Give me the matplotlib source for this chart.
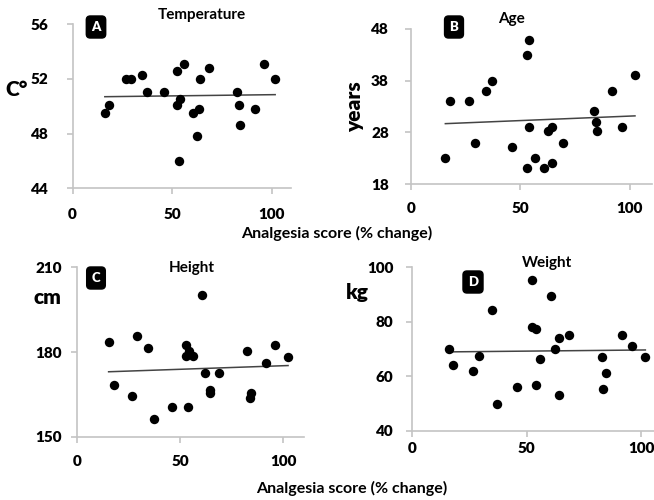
import numpy as np
import matplotlib.pyplot as plt

plt.rcParams['font.family'] = ['Lato', 'DejaVu Sans']
plt.rcParams['font.weight'] = 'bold'

# ---- data ----
temp_x = [16.2, 18.3, 26.6, 29.6, 34.7, 37.4, 45.9, 52.3, 52.3, 54.1, 53.4, 55.8,
          60.6, 63.7, 62.3, 64.2, 68.7, 82.7, 83.8, 84.1, 91.8, 96.0, 101.8]
temp_y = [49.5, 50.1, 52.0, 52.0, 52.3, 51.0, 51.0, 52.6, 50.1, 50.5, 46.0, 53.1,
          49.5, 49.8, 47.8, 52.0, 52.8, 51.0, 50.1, 48.6, 49.8, 53.1, 52.0]
temp_trend = [50.69, 50.84]

age_x = [15.7, 17.8, 26.6, 29.1, 34.4, 37.1, 46.0, 52.8, 54.0, 53.7, 52.8, 56.5,
         60.6, 62.7, 64.2, 64.4, 69.3, 83.6, 84.3, 84.8, 91.8, 96.3, 102.3]
age_y = [23.1, 34.1, 34.1, 26.0, 36.0, 38.0, 25.1, 42.9, 45.8, 29.0, 21.2, 23.1,
         21.2, 28.2, 29.0, 22.2, 26.0, 32.1, 30.0, 28.2, 36.0, 29.0, 39.0]
age_trend = [29.7, 31.2]

height_x = [15.2, 17.8, 26.4, 28.8, 34.3, 37.1, 46.0, 52.6, 52.6, 54.4, 53.6, 56.0,
            60.7, 62.1, 64.2, 64.6, 68.6, 82.5, 84.3, 83.8, 91.7, 96.0, 102.3]
height_y = [183.6, 168.4, 164.5, 185.6, 181.4, 156.3, 160.5, 182.5, 178.5, 180.4, 160.5, 178.5,
            200.3, 172.5, 165.6, 166.4, 172.5, 180.4, 165.6, 163.7, 176.2, 182.4, 178.4]
height_trend = [173.0, 175.2]

weight_x = [16.0, 17.9, 26.7, 29.3, 34.7, 37.2, 45.9, 52.3, 52.3, 53.9, 53.9, 55.8,
            60.5, 62.4, 64.3, 64.0, 68.7, 82.8, 84.5, 83.5, 91.8, 96.1, 101.9]
weight_y = [70.2, 64.1, 62.1, 67.4, 84.3, 49.9, 56.0, 95.4, 78.2, 77.3, 57.0, 66.3,
            89.5, 70.0, 74.1, 53.1, 75.1, 67.2, 61.1, 55.3, 75.1, 71.1, 67.2]
weight_trend = [69.0, 69.7]

titles = ["Temperature", "Age", "Height", "Weight"]
letters = ["A", "B", "C", "D"]
units = ["C\u00b0", "years", "cm", "kg"]
y_ticks = [[44, 48, 52, 56], [18, 28, 38, 48], [150, 180, 210], [40, 60, 80, 100]]
x_ticks = [0, 50, 100]
xlabel = "Analgesia score (% change)"

W, H = 654, 500
fig = plt.figure(figsize=(W / 100, H / 100), dpi=100)


def px(x, y):
    return x / W, 1 - y / H


# axes rectangles in figure fractions (layout)
rects = [[0.111, 0.6234, 0.3347, 0.3286],
         [0.6284, 0.6314, 0.3683, 0.311],
         [0.1182, 0.1266, 0.3465, 0.3388],
         [0.6305, 0.138, 0.3846, 0.3274]]
ypads = [13.5, 12, 7, 9.5]
xpads = [10, 9, 9.5, 4]

series = [(temp_x, temp_y, temp_trend),
          (age_x, age_y, age_trend),
          (height_x, height_y, height_trend),
          (weight_x, weight_y, weight_trend)]

grey = "#c4c4c4"
for i, (xs, ys, tr) in enumerate(series):
    ax = fig.add_axes(rects[i])
    ax.scatter(xs, ys, s=46, color="black", zorder=3, linewidths=0)
    ax.plot([min(xs), max(xs)], tr, color="#444444", lw=1.1, zorder=2)
    ax.set_xlim(0, 110)
    ax.set_ylim(y_ticks[i][0], y_ticks[i][-1])
    ax.set_xticks(x_ticks)
    ax.set_yticks(y_ticks[i])
    for s in ["top", "right"]:
        ax.spines[s].set_visible(False)
    for s in ["left", "bottom"]:
        ax.spines[s].set_color(grey)
        ax.spines[s].set_linewidth(1.2)
    ax.tick_params(axis="both", colors=grey, length=4, width=1.2, labelsize=11,
                   labelcolor="black")
    ax.tick_params(axis="y", pad=ypads[i])
    ax.tick_params(axis="x", pad=xpads[i])
    for lab in ax.get_xticklabels() + ax.get_yticklabels():
        lab.set_fontweight("heavy")

# titles
for t, (x, y) in zip(titles, [(202, 15), (511, 19), (192, 268), (547, 263)]):
    fig.text(*px(x, y), t, ha="center", va="center", fontsize=11, fontweight="bold")

# letter badges
for l, (x, y) in zip(letters, [(96, 27), (454, 27), (96, 278), (473, 282)]):
    fig.text(*px(x, y), l, ha="center", va="center", fontsize=9.5, fontweight="heavy",
             color="white",
             bbox=dict(boxstyle="round,pad=0.38,rounding_size=0.3", fc="black", ec="black"))

# unit labels
fig.text(*px(17, 90), units[0], ha="center", va="center", fontsize=15, fontweight="heavy")
fig.text(*px(355, 107), units[1], ha="center", va="center", fontsize=15, fontweight="heavy",
         rotation=90)
fig.text(*px(47, 297), units[2], ha="center", va="center", fontsize=15, fontweight="heavy")
fig.text(*px(357, 292), units[3], ha="center", va="center", fontsize=15, fontweight="heavy")

# x labels
fig.text(*px(337, 233), xlabel, ha="center", va="center", fontsize=11.5, fontweight="bold")
fig.text(*px(352, 488), xlabel, ha="center", va="center", fontsize=11.5, fontweight="bold")

fig.savefig("out.png", dpi=100)
